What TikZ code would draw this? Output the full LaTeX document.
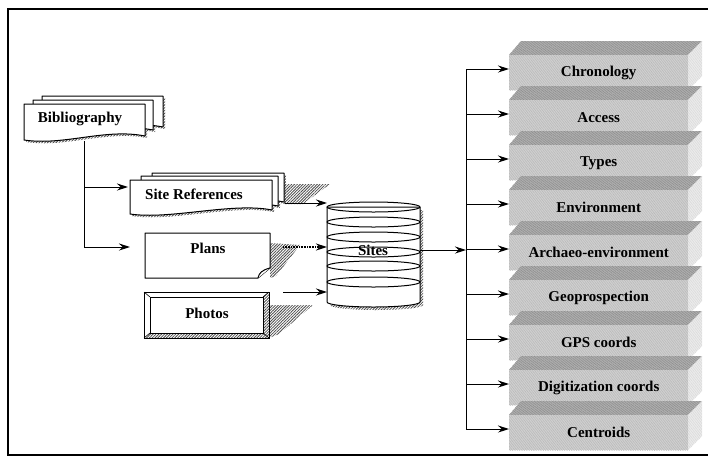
\documentclass[tikz,border=0pt]{standalone}
\usepackage{fontspec}
\setmainfont{Liberation Serif}
\usetikzlibrary{arrows.meta,patterns.meta}
\tikzset{
 shp/.style={draw=black, line width=1pt, fill=white, line join=round},
 hatch/.style={pattern={Lines[angle=45,distance=2pt,line width=0.8pt]}, pattern color=black!70},
 arr/.style={line width=1pt, -{Stealth[length=11pt,width=7pt]}},
 conn/.style={line width=1pt},
 lbl/.style={font=\fontsize{15}{17}\selectfont\bfseries, inner sep=0pt},
 boxfront/.style={fill=gray!35, postaction={pattern={Lines[angle=60,distance=1.5pt,line width=0.35pt]}, pattern color=gray!60}},
 boxtop/.style={fill=gray!60, postaction={pattern={Lines[angle=30,distance=1.5pt,line width=0.5pt]}, pattern color=gray!90}},
 boxside/.style={fill=gray!14, postaction={pattern={Lines[angle=60,distance=1.5pt,line width=0.3pt]}, pattern color=gray!35}},
}
\newcommand\docsheet[5][shp]{\path[#1] (#2,#3) -- (#4,#3) -- (#4,#5-4) .. controls (#4-40,#5-12) and (#2+40,#5+6) .. (#2,#5) -- cycle;}
\begin{document}
\begin{tikzpicture}[x=1pt,y=-1pt]
\useasboundingbox (0,0) rectangle (708,459);
\fill[white] (0,0) rectangle (708,459);
% frame
\draw[line width=1.2pt] (708,9) -- (8,9) -- (8,455) -- (708,455);

% ---------- Bibliography ----------
\docsheet[hatch]{44}{98}{165}{133}
\docsheet[hatch]{35}{102}{155}{136}
\docsheet[hatch]{26}{106}{147}{142}
\coordinate (bibout) at (84,141);
\coordinate (srin) at (128,187);
\coordinate (plin) at (130,247);
\draw[arr] (bibout) |- (srin);
\draw[arr] (bibout) |- (plin);
\docsheet{42}{96}{163}{131}
\docsheet{33}{100}{153}{134}
\docsheet{24}{104}{145}{140}
\node[lbl] (bib) at (80,119) {Bibliography};

% ---------- Site References ----------
\path[hatch] (284,184) -- (330,184) -- (303,204) -- (284,204) -- cycle;
\docsheet[hatch]{154}{175}{286}{208}
\docsheet[hatch]{143}{178}{280}{212}
\docsheet[hatch]{132}{182}{274}{216}
\docsheet{152}{173}{284}{206}
\docsheet{141}{176}{278}{210}
\docsheet{130}{180}{272}{214}
\node[lbl] (sr) at (194,194) {Site References};
\coordinate (srout) at (285,203);

% ---------- Plans ----------
\path[hatch] (270,243) -- (300,245) -- (276,276) -- (270,278) -- cycle;
\path[shp] (145,233) -- (270,233) -- (270,268) -- (258,278) -- (145,278) -- cycle;
\path[shp] (258,278) .. controls (259,273) and (262,270) .. (270,268);
\node[lbl] (pl) at (208,248) {Plans};
\coordinate (plout) at (283,247);

% ---------- Photos ----------
\path[hatch] (269,305) -- (313,305) -- (279,334) -- (269,338) -- cycle;
\path[shp] (144,292) rectangle (269,338);
\path[hatch] (269,292) -- (269,338) -- (263,333) -- (263,297) -- cycle;
\path[hatch] (144,338) -- (269,338) -- (263,333) -- (150,333) -- cycle;
\draw[line width=1pt] (144,292) rectangle (269,338);
\draw[line width=0.8pt] (150,297) rectangle (263,333);
\draw[line width=0.6pt] (144,292) -- (150,297) (269,292) -- (263,297) (144,338) -- (150,333) (269,338) -- (263,333);
\node[lbl] (ph) at (207,313) {Photos};
\coordinate (phout) at (283,292);

% ---------- Sites cylinder ----------
\path[hatch] (330,210) -- (330,305) arc[start angle=180,end angle=0,x radius=46.5,y radius=5] -- (423,210) -- cycle;
\path[shp] (327,207) -- (327,302) arc[start angle=180,end angle=0,x radius=46.5,y radius=5] -- (420,207) -- cycle;
\foreach \yy in {207,222,237,252,266,282}
  \draw[line width=1pt] (373.5,\yy) ellipse[x radius=46.5,y radius=5];
\node[lbl] (sites) at (373,250) {Sites};
\coordinate (cylin1) at (327,203);
\coordinate (cylin2) at (327,247);
\coordinate (cylin3) at (327,292);
\coordinate (cylout) at (420,250);

\draw[arr] (srout) -- (cylin1);
\draw[arr, line width=1.6pt, dash pattern=on 0.8pt off 0.8pt] (plout) -- (cylin2);
\draw[arr] (phout) -- (cylin3);

% ---------- trunk ----------
\coordinate (trunk) at (466,250);
\draw[arr] (cylout) -- (trunk);
\draw[conn] (466,69) -- (466,429);

% ---------- right boxes ----------
\foreach \t [count=\i from 0] in {Chronology,Access,Types,Environment,Archaeo-environment,Geoprospection,GPS coords,Digitization coords,Centroids}{
  \pgfmathsetmacro\yy{69+45*\i}
  \path[boxtop] (509,\yy-14) -- (521,\yy-28) -- (702,\yy-28) -- (688,\yy-14) -- cycle;
  \path[boxside] (688,\yy-14) -- (702,\yy-28) -- (702,\yy+7) -- (688,\yy+21) -- cycle;
  \node[boxfront, lbl, minimum width=179pt, minimum height=35pt, anchor=north west] (b\i) at (509,\yy-14) {\t};
  \draw[arr] (trunk |- 0,\yy) -- (b\i.west |- 0,\yy);
}
\end{tikzpicture}
\end{document}
